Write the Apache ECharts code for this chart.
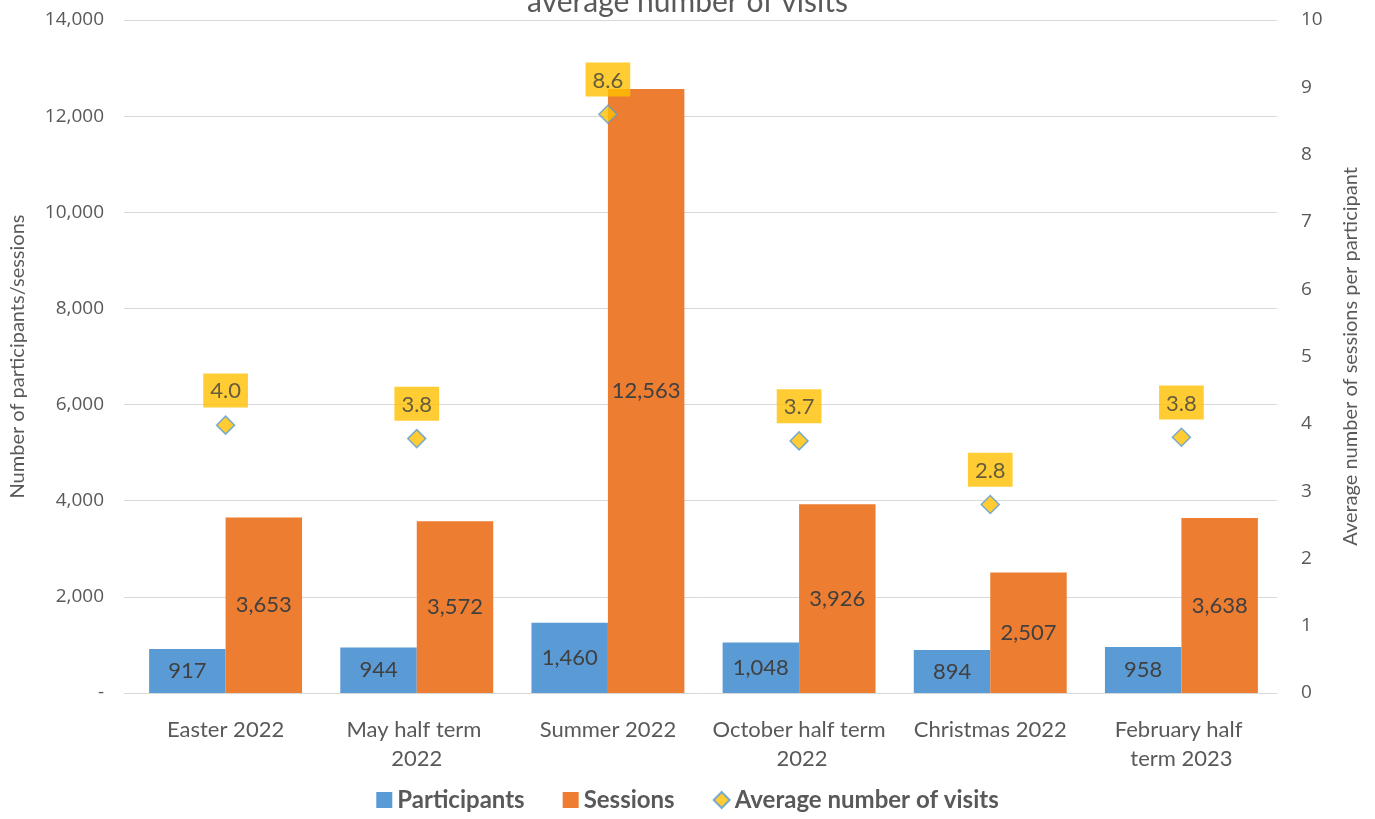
<!DOCTYPE html>
<html>
<head>
<meta charset="utf-8">
<script src="https://cdn.jsdelivr.net/npm/echarts@6/dist/echarts.min.js"></script>
<style>
  html, body { margin: 0; padding: 0; background: #fff; }
  #chart { width: 1375px; height: 819px; }
</style>
</head>
<body>
<div id="chart"></div>
<script>
// Holiday periods and their counts
const categories = ['Easter 2022', 'May half term 2022', 'Summer 2022', 'October half term 2022', 'Christmas 2022', 'February half term 2023'];
const participants = [917, 944, 1460, 1048, 894, 958];
const sessions = [3653, 3572, 12563, 3926, 2507, 3638];
// Sessions per participant
const averageVisits = [3.98, 3.78, 8.60, 3.746, 2.80, 3.80];
const leftTicks = [0, 2000, 4000, 6000, 8000, 10000, 12000, 14000];

const FONT = 'Lato, "Open Sans", sans-serif';
const TICKFONT = '"Open Sans", sans-serif';
const TEXT = '#595959';
const LABEL = '#404040';

const chart = echarts.init(document.getElementById('chart'));

chart.setOption({
  backgroundColor: '#ffffff',
  animation: false,
  title: {
    text: 'average number of visits',
    left: 'center',
    top: -18,
    textStyle: { fontFamily: FONT, fontSize: 30, fontWeight: 'normal', color: TEXT }
  },
  grid: { left: 126, right: 98, top: 20, bottom: 126, containLabel: false },
  legend: {
    bottom: 2,
    left: 'center',
    itemWidth: 16,
    itemHeight: 16,
    itemGap: 38,
    textStyle: { fontFamily: FONT, fontSize: 24, fontWeight: 'bold', color: TEXT },
    data: [
      { name: 'Participants', icon: 'rect' },
      { name: 'Sessions', icon: 'rect' },
      { name: 'Average number of visits', icon: 'diamond' }
    ]
  },
  xAxis: {
    type: 'category',
    data: categories,
    axisLine: { lineStyle: { color: '#D9D9D9', width: 1 } },
    axisTick: { show: false },
    axisLabel: {
      interval: 0,
      margin: 22,
      width: 176,
      overflow: 'break',
      lineHeight: 29,
      fontFamily: FONT,
      fontSize: 22,
      color: TEXT
    }
  },
  yAxis: [
    {
      type: 'value',
      min: leftTicks[0],
      max: leftTicks[leftTicks.length - 1],
      interval: 2000,
      name: 'Number of participants/sessions',
      nameLocation: 'middle',
      nameGap: 102,
      nameTextStyle: { fontFamily: FONT, fontSize: 20, color: TEXT },
      axisLine: { show: false },
      axisTick: { show: true, length: 6, lineStyle: { color: '#D9D9D9' } },
      splitLine: { lineStyle: { color: '#D9D9D9', width: 1 } },
      axisLabel: {
        margin: 26,
        fontFamily: TICKFONT,
        fontSize: 19,
        color: TEXT,
        formatter: v => v === 0 ? '-' : v.toLocaleString('en-US')
      }
    },
    {
      type: 'value',
      min: 0,
      max: 10,
      interval: 1,
      name: 'Average number of sessions per participant',
      nameLocation: 'middle',
      nameGap: 64,
      nameRotate: 90,
      nameTextStyle: { fontFamily: FONT, fontSize: 20, color: TEXT },
      axisLine: { show: false },
      axisTick: { show: false },
      splitLine: { show: false },
      axisLabel: {
        margin: 24,
        fontFamily: TICKFONT,
        fontSize: 19,
        color: TEXT
      }
    }
  ],
  series: [
    {
      name: 'Participants',
      type: 'bar',
      data: participants,
      barGap: '0%',
      barCategoryGap: '20%',
      itemStyle: { color: '#5B9BD5' },
      label: {
        show: true,
        position: 'inside',
        fontFamily: FONT,
        fontSize: 22,
        color: LABEL,
        formatter: p => p.value.toLocaleString('en-US')
      }
    },
    {
      name: 'Sessions',
      type: 'bar',
      data: sessions,
      itemStyle: { color: '#ED7D31' },
      label: {
        show: true,
        position: 'inside',
        fontFamily: FONT,
        fontSize: 22,
        color: LABEL,
        formatter: p => p.value.toLocaleString('en-US')
      }
    },
    {
      name: 'Average number of visits',
      type: 'scatter',
      yAxisIndex: 1,
      data: averageVisits,
      symbol: 'diamond',
      symbolSize: 18,
      z: 5,
      itemStyle: { color: '#FFC000', borderColor: '#5B9BD5', borderWidth: 1.5 },
      label: {
        show: true,
        position: 'top',
        distance: 8,
        backgroundColor: '#FFC000',
        padding: [7, 7, 5, 7],
        fontFamily: FONT,
        fontSize: 22,
        color: LABEL,
        formatter: p => p.value.toFixed(1)
      }
    }
  ]
});
</script>
</body>
</html>
